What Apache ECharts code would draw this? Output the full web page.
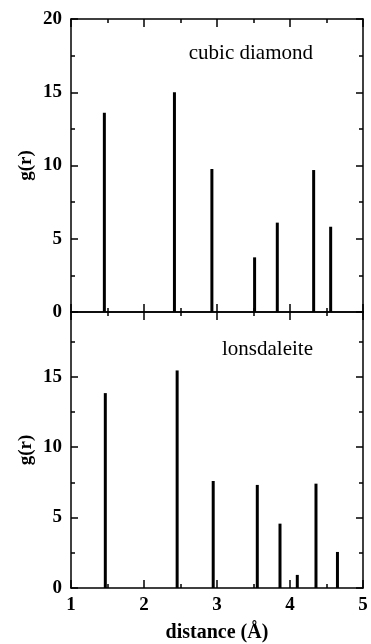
<!DOCTYPE html>
<html>
<head>
<meta charset="utf-8">
<script src="https://cdn.jsdelivr.net/npm/echarts@6/dist/echarts.min.js"></script>
<style>
  html, body { margin: 0; padding: 0; background: #fff; }
  #chart { width: 371px; height: 644px; }
</style>
</head>
<body>
<div id="chart"></div>
<script>
// peak positions (Å) and heights
const diamondR = [1.457, 2.417, 2.93, 3.515, 3.826, 4.324, 4.557];
const diamondG = [13.6, 15.0, 9.76, 3.73, 6.1, 9.69, 5.82];
const lonsR = [1.47, 2.454, 2.948, 3.552, 3.863, 4.1, 4.356, 4.65];
const lonsG = [13.84, 15.45, 7.6, 7.32, 4.57, 0.93, 7.41, 2.56];

const chart = echarts.init(document.getElementById("chart"));
const font = "'Liberation Serif', 'DejaVu Serif', serif";

function pairs(xs, ys) {
  return xs.map((x, i) => [x, ys[i]]);
}

function xAxis(grid, pos, labels) {
  return {
    type: "value",
    gridIndex: grid,
    position: pos,
    min: 1,
    max: 5,
    interval: 1,
    axisLine: { show: true, onZero: false, lineStyle: { color: "#000", width: 1.5 } },
    axisTick: { show: true, inside: true, length: 8, lineStyle: { color: "#000", width: 1.5 } },
    minorTick: { show: true, splitNumber: 2, length: 4, lineStyle: { color: "#000", width: 1.5 } },
    splitLine: { show: false },
    axisLabel: {
      show: labels,
      color: "#000",
      fontFamily: font,
      fontWeight: "bold",
      fontSize: 19,
      margin: 8,
    },
    name: labels ? "distance (Å)" : "",
    nameLocation: "middle",
    nameGap: 35,
    nameTextStyle: { color: "#000", fontFamily: font, fontWeight: "bold", fontSize: 20 },
  };
}

function yAxis(grid, pos, labels, max) {
  return {
    type: "value",
    gridIndex: grid,
    position: pos,
    min: 0,
    max: max,
    interval: 5,
    axisLine: { show: true, onZero: false, lineStyle: { color: "#000", width: 1.5 } },
    axisTick: { show: true, inside: true, length: 7, lineStyle: { color: "#000", width: 1.5 } },
    minorTick: { show: true, splitNumber: 2, length: 4, lineStyle: { color: "#000", width: 1.5 } },
    splitLine: { show: false },
    axisLabel: {
      show: labels,
      showMaxLabel: max === 20,
      color: "#000",
      fontFamily: font,
      fontWeight: "bold",
      fontSize: 19,
      margin: 9,
    },
    name: labels ? "g(r)" : "",
    nameLocation: "middle",
    nameRotate: 90,
    nameGap: 35,
    nameMoveOverlap: false,
    nameTextStyle: { color: "#000", fontFamily: font, fontWeight: "bold", fontSize: 19 },
  };
}

const option = {
  animation: false,
  backgroundColor: "#fff",
  grid: [
    { left: 71, right: 8, top: 19, height: 293 },
    { left: 71, right: 8, top: 312, height: 276 },
  ],
  xAxis: [
    xAxis(0, "bottom", false),
    xAxis(0, "top", false),
    xAxis(1, "bottom", true),
    xAxis(1, "top", false),
  ],
  yAxis: [
    yAxis(0, "left", true, 20),
    yAxis(0, "right", false, 20),
    yAxis(1, "left", true, 19.6),
    yAxis(1, "right", false, 19.6),
  ],
  graphic: [
    {
      type: "text",
      right: 58,
      top: 43,
      style: { text: "cubic diamond", fill: "#000", font: "21px " + font },
    },
    {
      type: "text",
      right: 58,
      top: 339,
      style: { text: "lonsdaleite", fill: "#000", font: "21px " + font },
    },
  ],
  series: [
    {
      name: "cubic diamond",
      type: "bar",
      xAxisIndex: 0,
      yAxisIndex: 0,
      barWidth: 3,
      itemStyle: { color: "#000" },
      data: pairs(diamondR, diamondG),
    },
    {
      name: "lonsdaleite",
      type: "bar",
      xAxisIndex: 2,
      yAxisIndex: 2,
      barWidth: 3,
      itemStyle: { color: "#000" },
      data: pairs(lonsR, lonsG),
    },
  ],
};

chart.setOption(option);
</script>
</body>
</html>
